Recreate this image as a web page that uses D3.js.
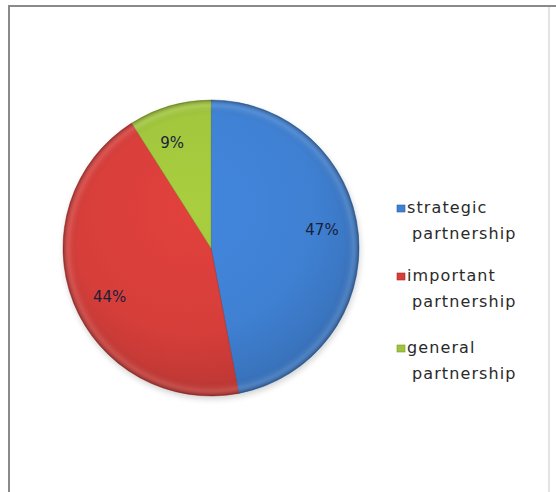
<!DOCTYPE html>
<html>
<head>
<meta charset="utf-8">
<script src="https://cdn.jsdelivr.net/npm/d3@7/dist/d3.min.js"></script>
<style>
  html, body { margin: 0; padding: 0; background: #fff; }
  svg { display: block; }
</style>
</head>
<body>
<svg id="chart" width="556" height="492"></svg>
<script>
// Partnership types and their shares (percent)
const categories = ["strategic partnership", "important partnership", "general partnership"];
const legendLines = [["strategic", "partnership"], ["important", "partnership"], ["general", "partnership"]];
const values = [47, 44, 9];
const colors = ["#3f80d2", "#d63e3a", "#a0c43c"];
const darkColors = ["#2a5ea6", "#a52a27", "#7a982a"];

const svg = d3.select("#chart");
const W = 556, H = 492;

// chart frame
svg.append("rect").attr("x", 0).attr("y", 0).attr("width", W).attr("height", H).attr("fill", "#fff");
svg.append("line").attr("x1", 549).attr("x2", 549).attr("y1", 6).attr("y2", H)
  .attr("stroke", "#c8c8c8").attr("stroke-width", 1);
svg.append("path")
  .attr("d", `M9,${H} L9,6 L556,6`)
  .attr("fill", "none").attr("stroke", "#8a8a8a").attr("stroke-width", 2);

const cx = 211, cy = 248, r = 148;
const defs = svg.append("defs");

// bevelled fill per slice (coordinates local to the pie group)
colors.forEach((c, i) => {
  const gr = defs.append("radialGradient").attr("id", "grad" + i)
    .attr("gradientUnits", "userSpaceOnUse")
    .attr("cx", -20).attr("cy", -40).attr("r", r * 1.2);
  gr.append("stop").attr("offset", "0%").attr("stop-color", d3.color(c).brighter(0.15));
  gr.append("stop").attr("offset", "70%").attr("stop-color", c);
  gr.append("stop").attr("offset", "100%").attr("stop-color", d3.color(c).darker(0.3));
});
// rim shading
const rim = defs.append("radialGradient").attr("id", "rim")
  .attr("gradientUnits", "userSpaceOnUse")
  .attr("cx", 0).attr("cy", 0).attr("r", r);
rim.append("stop").attr("offset", "90%").attr("stop-color", "#000").attr("stop-opacity", 0);
rim.append("stop").attr("offset", "96%").attr("stop-color", "#fff").attr("stop-opacity", 0.1);
rim.append("stop").attr("offset", "100%").attr("stop-color", "#000").attr("stop-opacity", 0.3);

const pie = d3.pie().sort(null).value(d => d)(values);
const arc = d3.arc().innerRadius(0).outerRadius(r);

const g = svg.append("g").attr("transform", `translate(${cx},${cy})`);

// soft shadow under the pie
const shadow = defs.append("filter").attr("id", "shadow")
  .attr("x", "-20%").attr("y", "-20%").attr("width", "140%").attr("height", "140%");
shadow.append("feGaussianBlur").attr("stdDeviation", 3);
g.append("circle").attr("cx", 1).attr("cy", 3).attr("r", r)
  .attr("fill", "#000").attr("opacity", 0.18).attr("filter", "url(#shadow)");

g.selectAll("path.slice").data(pie).join("path")
  .attr("class", "slice")
  .attr("d", arc)
  .attr("fill", (d, i) => `url(#grad${i})`)
  .attr("stroke", (d, i) => darkColors[i])
  .attr("stroke-width", 0.8)
  .attr("stroke-opacity", 0.6);

// rim overlay
g.append("circle").attr("r", r).attr("fill", "url(#rim)").attr("pointer-events", "none");

// percentage labels, placed inside each slice slightly counter-clockwise of its middle
const labelPos = d => {
  const a = (d.startAngle + d.endAngle) / 2 - 0.07;
  const rr = r * 0.76;
  return [Math.sin(a) * rr, -Math.cos(a) * rr];
};
g.selectAll("text.pct").data(pie).join("text")
  .attr("class", "pct")
  .attr("transform", d => `translate(${labelPos(d)})`)
  .attr("text-anchor", "middle")
  .attr("dy", "0.35em")
  .attr("font-family", "DejaVu Sans, sans-serif")
  .attr("font-size", 15)
  .attr("fill", "#1a1f3a")
  .text(d => d.data + "%");

// legend
const legendY = [213, 281, 353];
const lg = svg.append("g");
categories.forEach((cat, i) => {
  const y = legendY[i];
  lg.append("rect").attr("x", 397).attr("y", y - 8).attr("width", 8).attr("height", 7)
    .attr("fill", colors[i]).attr("stroke", darkColors[i]).attr("stroke-width", 0.6);
  const t = lg.append("text")
    .attr("font-family", "DejaVu Sans, sans-serif")
    .attr("font-size", 16)
    .attr("letter-spacing", 1.1)
    .attr("fill", "#2a2a2a");
  t.append("tspan").attr("x", 407).attr("y", y).text(legendLines[i][0]);
  t.append("tspan").attr("x", 412).attr("y", y + 26).text(legendLines[i][1]);
});
</script>
</body>
</html>
